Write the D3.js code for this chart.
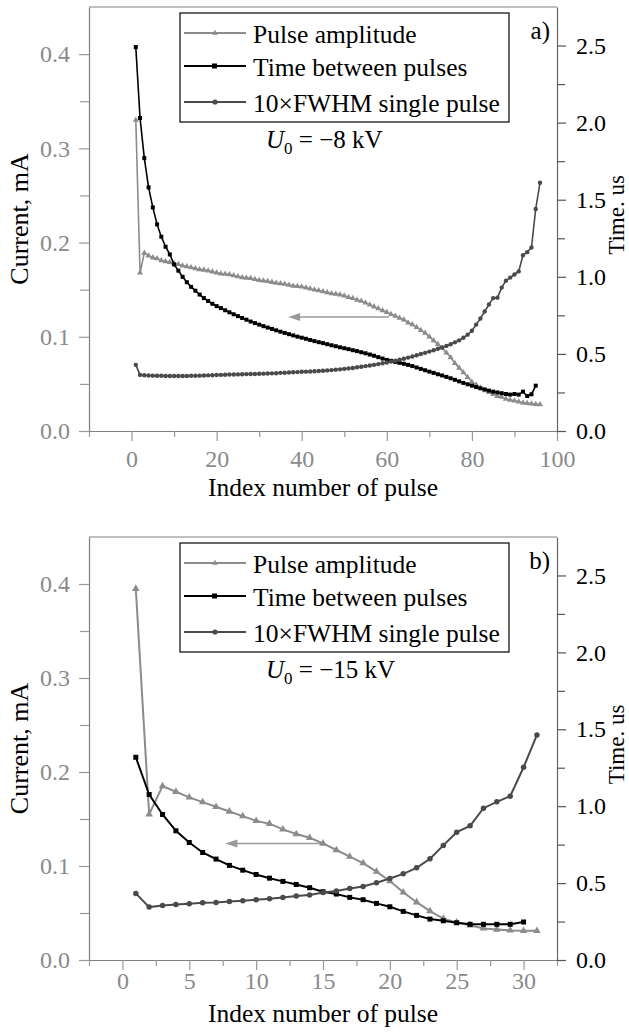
<!DOCTYPE html>
<html>
<head>
<meta charset="utf-8">
<script src="https://cdn.jsdelivr.net/npm/d3@7"></script>
<style>
  body { margin: 0; background: #fff; }
</style>
</head>
<body>
<script>
// series names (legend)
var seriesNames = ["Pulse amplitude", "Time between pulses", "10\u00d7FWHM single pulse"];

// panel a) U0 = -8 kV, index 1..96
var ampA = [0.330, 0.168, 0.189, 0.186, 0.184, 0.183, 0.181, 0.180, 0.179, 0.178,
  0.177, 0.1755, 0.1745, 0.1735, 0.1725, 0.1715, 0.171, 0.170, 0.169, 0.168,
  0.167, 0.1665, 0.166, 0.165, 0.164, 0.163, 0.1625, 0.162, 0.161, 0.160,
  0.1595, 0.159, 0.158, 0.157, 0.1565, 0.156, 0.155, 0.154, 0.1535, 0.153,
  0.152, 0.151, 0.150, 0.149, 0.148, 0.147, 0.146, 0.1455, 0.1445, 0.1435,
  0.142, 0.141, 0.139, 0.138, 0.136, 0.134, 0.132, 0.130, 0.128, 0.126,
  0.124, 0.122, 0.120, 0.118, 0.115, 0.113, 0.110, 0.107, 0.104, 0.100,
  0.096, 0.092, 0.088, 0.083, 0.078, 0.072, 0.067, 0.062, 0.057, 0.052,
  0.049, 0.046, 0.043, 0.041, 0.039, 0.037, 0.036, 0.034, 0.033, 0.032,
  0.031, 0.030, 0.0295, 0.029, 0.0285, 0.028];
var tbpA = [2.49, 2.03, 1.77, 1.58, 1.45, 1.34, 1.26, 1.195, 1.145, 1.08,
  1.04, 1.00, 0.965, 0.935, 0.91, 0.885, 0.862, 0.843, 0.825, 0.81,
  0.797, 0.783, 0.77, 0.757, 0.745, 0.733, 0.722, 0.71, 0.70, 0.69,
  0.68, 0.671, 0.662, 0.653, 0.644, 0.636, 0.628, 0.62, 0.612, 0.605,
  0.598, 0.59, 0.583, 0.576, 0.57, 0.563, 0.556, 0.55, 0.543, 0.537,
  0.531, 0.524, 0.518, 0.511, 0.504, 0.496, 0.488, 0.479, 0.470, 0.461,
  0.455, 0.448, 0.442, 0.436, 0.429, 0.421, 0.412, 0.403, 0.394, 0.385,
  0.377, 0.368, 0.360, 0.351, 0.342, 0.332, 0.322, 0.312, 0.303, 0.294,
  0.285, 0.277, 0.270, 0.262, 0.255, 0.250, 0.245, 0.240, 0.236, 0.240,
  0.236, 0.255, 0.227, 0.238, 0.294];
var fwhmA = [0.429, 0.364, 0.362, 0.360, 0.359, 0.358, 0.358, 0.357, 0.357, 0.357,
  0.357, 0.357, 0.357, 0.358, 0.358, 0.359, 0.360, 0.361, 0.362, 0.363,
  0.364, 0.365, 0.366, 0.366, 0.367, 0.368, 0.369, 0.370, 0.370, 0.371,
  0.372, 0.373, 0.374, 0.375, 0.377, 0.378, 0.379, 0.381, 0.382, 0.384,
  0.385, 0.386, 0.388, 0.389, 0.391, 0.393, 0.395, 0.398, 0.400, 0.403,
  0.406, 0.409, 0.413, 0.417, 0.421, 0.425, 0.429, 0.434, 0.439, 0.444,
  0.450, 0.456, 0.462, 0.469, 0.476, 0.483, 0.491, 0.499, 0.507, 0.515,
  0.524, 0.533, 0.542, 0.552, 0.563, 0.575, 0.588, 0.605, 0.625, 0.650,
  0.690, 0.730, 0.775, 0.820, 0.862, 0.865, 0.930, 0.975, 0.995, 1.015,
  1.035, 1.14, 1.16, 1.19, 1.44, 1.61];

// panel b) U0 = -15 kV, index 1..31
var ampB = [0.395, 0.155, 0.185, 0.179, 0.173, 0.168, 0.163, 0.158, 0.153, 0.148,
  0.145, 0.139, 0.134, 0.130, 0.124, 0.117, 0.110, 0.103, 0.094, 0.084,
  0.072, 0.0615, 0.052, 0.044, 0.040, 0.037, 0.0336, 0.0325, 0.0315, 0.031,
  0.031];
var tbpB = [1.318, 1.076, 0.946, 0.840, 0.764, 0.699, 0.656, 0.615, 0.584, 0.556,
  0.532, 0.511, 0.491, 0.470, 0.444, 0.429, 0.407, 0.392, 0.368, 0.346,
  0.316, 0.290, 0.266, 0.255, 0.242, 0.232, 0.232, 0.232, 0.232, 0.247];
var fwhmB = [0.433, 0.344, 0.355, 0.361, 0.366, 0.372, 0.374, 0.381, 0.385, 0.392,
  0.398, 0.407, 0.416, 0.422, 0.439, 0.448, 0.465, 0.478, 0.502, 0.530,
  0.560, 0.599, 0.658, 0.745, 0.831, 0.872, 0.987, 1.028, 1.065, 1.253,
  1.463];

// tick values
var currentTicks = [0, 0.1, 0.2, 0.3, 0.4];
var currentMinor = [0.05, 0.15, 0.25, 0.35];
var timeTicks = [0, 0.5, 1.0, 1.5, 2.0, 2.5];
var timeMinor = [0.25, 0.75, 1.25, 1.75, 2.25];
var xTicksA = [0, 20, 40, 60, 80, 100];
var xMinorA = [-10, 10, 30, 50, 70, 90];
var xTicksB = [0, 5, 10, 15, 20, 25, 30];
var xMinorB = [-2.5, 2.5, 7.5, 12.5, 17.5, 22.5, 27.5, 32.5];

var W = 629, H = 1032;
var left = 89, right = 557;
var cAmp = "#8c8c8c", cTbp = "#000", cFwhm = "#4a4a4a";
var axisGray = "#808080", labelGray = "#8a8a8a";
var serif = "'Liberation Serif', Tinos, 'Times New Roman', 'DejaVu Serif', serif";
var tickFs = 24;

var svg = d3.select("body").append("svg")
  .attr("width", W)
  .attr("height", H)
  .attr("font-family", serif);

var panels = [
  { top: 7, bottom: 431, xDomain: [-10, 100], xTicks: xTicksA, xMinor: xMinorA,
    amp: ampA, tbp: tbpA, fwhm: fwhmA, tag: "a)", volt: " = \u22128 kV",
    arrow: [60.5, 36.8, 0.121], labelOff: 36, titleY: 495.5, small: true },
  { top: 537, bottom: 960, xDomain: [-2.5, 32.5], xTicks: xTicksB, xMinor: xMinorB,
    amp: ampB, tbp: tbpB, fwhm: fwhmB, tag: "b)", volt: " = \u221215 kV",
    arrow: [15, 7.7, 0.124], labelOff: 29, titleY: 1022, small: false }
];

panels.forEach(drawPanel);

// d3 axes put their own font-family on the group, override it
svg.selectAll("g").attr("font-family", serif);
svg.selectAll("text").style("font-family", serif);

function drawPanel(p) {
  var x = d3.scaleLinear().domain(p.xDomain).range([left, right]);
  var yL = d3.scaleLinear().domain([0, 0.45]).range([p.bottom, p.top]);
  var yR = d3.scaleLinear().domain([0, 2.75]).range([p.bottom, p.top]);
  var g = svg.append("g");

  // frame top
  g.append("line")
    .attr("x1", left).attr("x2", right)
    .attr("y1", p.top).attr("y2", p.top)
    .attr("stroke", axisGray).attr("stroke-width", 1.2);

  // x axis
  var gx = g.append("g")
    .attr("transform", "translate(0," + p.bottom + ")")
    .call(d3.axisBottom(x).tickValues(p.xTicks).tickSize(10).tickSizeOuter(0)
      .tickPadding(p.labelOff - 10 - 0.71 * tickFs).tickFormat(d3.format("d")));
  gx.append("g")
    .call(d3.axisBottom(x).tickValues(p.xMinor).tickSize(6).tickSizeOuter(0).tickFormat(""))
    .select(".domain").remove();
  gx.selectAll(".domain").attr("stroke", axisGray).attr("stroke-width", 1.2);
  gx.selectAll(".tick line").attr("stroke", "#999").attr("stroke-width", 1.2);
  gx.selectAll("text").attr("fill", labelGray).style("font-size", tickFs + "px");

  // left axis (current)
  var gl = g.append("g")
    .attr("transform", "translate(" + left + ",0)")
    .call(d3.axisLeft(yL).tickValues(currentTicks).tickSize(10).tickSizeOuter(0)
      .tickPadding(9).tickFormat(d3.format(".1f")));
  gl.append("g")
    .call(d3.axisLeft(yL).tickValues(currentMinor).tickSize(9).tickSizeOuter(0).tickFormat(""))
    .select(".domain").remove();
  gl.selectAll(".domain").attr("stroke", axisGray).attr("stroke-width", 1.2);
  gl.selectAll(".tick line").attr("stroke", "#999").attr("stroke-width", 1.2);
  gl.selectAll("text").attr("fill", labelGray).style("font-size", tickFs + "px");

  // right axis (time)
  var gr = g.append("g")
    .attr("transform", "translate(" + right + ",0)")
    .call(d3.axisRight(yR).tickValues(timeTicks).tickSize(9).tickSizeOuter(0)
      .tickPadding(10).tickFormat(d3.format(".1f")));
  gr.append("g")
    .call(d3.axisRight(yR).tickValues(timeMinor).tickSize(8).tickSizeOuter(0).tickFormat(""))
    .select(".domain").remove();
  gr.selectAll(".domain").attr("stroke", "#666").attr("stroke-width", 1.2);
  gr.selectAll(".tick line").attr("stroke", "#555").attr("stroke-width", 1.2);
  gr.selectAll("text").attr("fill", "#000").style("font-size", tickFs + "px");

  // axis titles
  var mid = (p.top + p.bottom) / 2;
  g.append("text")
    .attr("transform", "translate(28," + mid + ") rotate(-90)")
    .attr("text-anchor", "middle")
    .style("font-size", "26px")
    .text("Current, mA");
  g.append("text")
    .attr("transform", "translate(624," + (mid - 4) + ") rotate(-90)")
    .attr("text-anchor", "middle")
    .style("font-size", "23px")
    .text("Time. us");
  g.append("text")
    .attr("x", (left + right) / 2)
    .attr("y", p.titleY)
    .attr("text-anchor", "middle")
    .style("font-size", "25.5px")
    .text("Index number of pulse");

  // arrow toward the current axis
  var ay = yL(p.arrow[2]);
  var ax1 = x(p.arrow[0]), ax2 = x(p.arrow[1]);
  g.append("line")
    .attr("x1", ax1).attr("x2", ax2 + 8)
    .attr("y1", ay).attr("y2", ay)
    .attr("stroke", "#9a9a9a").attr("stroke-width", 1.5);
  g.append("path")
    .attr("d", "M" + ax2 + "," + ay + "L" + (ax2 + 12) + "," + (ay - 4) + "L" + (ax2 + 12) + "," + (ay + 4) + "Z")
    .attr("fill", "#9a9a9a");

  var ms = p.small ? 1 : 1.25;
  var lw = p.small ? 1.6 : 2;

  var lineL = d3.line().x(function(d, i) { return x(i + 1); }).y(function(d) { return yL(d); });
  var lineR = d3.line().x(function(d, i) { return x(i + 1); }).y(function(d) { return yR(d); });

  // pulse amplitude (left axis)
  g.append("path").datum(p.amp)
    .attr("d", lineL).attr("fill", "none").attr("stroke", cAmp).attr("stroke-width", lw);
  g.selectAll(".tri").data(p.amp).enter().append("path")
    .attr("class", "tri")
    .attr("d", d3.symbol(d3.symbolTriangle).size(16 * ms * ms))
    .attr("transform", function(d, i) { return "translate(" + x(i + 1) + "," + yL(d) + ")"; })
    .attr("fill", cAmp);

  // time between pulses (right axis)
  g.append("path").datum(p.tbp)
    .attr("d", lineR).attr("fill", "none").attr("stroke", cTbp).attr("stroke-width", lw);
  var sq = 4 * ms;
  g.selectAll(".sq").data(p.tbp).enter().append("rect")
    .attr("class", "sq")
    .attr("x", function(d, i) { return x(i + 1) - sq / 2; })
    .attr("y", function(d) { return yR(d) - sq / 2; })
    .attr("width", sq).attr("height", sq)
    .attr("fill", cTbp);

  // 10xFWHM (right axis)
  g.append("path").datum(p.fwhm)
    .attr("d", lineR).attr("fill", "none").attr("stroke", cFwhm).attr("stroke-width", lw);
  g.selectAll(".dot").data(p.fwhm).enter().append("circle")
    .attr("class", "dot")
    .attr("cx", function(d, i) { return x(i + 1); })
    .attr("cy", function(d) { return yR(d); })
    .attr("r", 2.2 * ms)
    .attr("fill", cFwhm);

  // legend
  var lg = g.append("g").attr("transform", "translate(180," + (p.top + 6) + ")");
  lg.append("rect")
    .attr("width", 329).attr("height", 109)
    .attr("fill", "#fff").attr("stroke", "#000").attr("stroke-width", 1.2);
  var rows = [20, 53, 89];
  var cols = [cAmp, cTbp, cFwhm];
  seriesNames.forEach(function(name, k) {
    var ry = rows[k];
    lg.append("line")
      .attr("x1", 4).attr("x2", 66).attr("y1", ry).attr("y2", ry)
      .attr("stroke", cols[k]).attr("stroke-width", 1.8);
    if (k === 0) {
      lg.append("path").attr("d", d3.symbol(d3.symbolTriangle).size(14))
        .attr("transform", "translate(35," + ry + ")").attr("fill", cols[k]);
    } else if (k === 1) {
      lg.append("rect").attr("x", 32).attr("y", ry - 2.5).attr("width", 5).attr("height", 5)
        .attr("fill", cols[k]);
    } else {
      lg.append("circle").attr("cx", 35).attr("cy", ry).attr("r", 2.6).attr("fill", cols[k]);
    }
    lg.append("text")
      .attr("x", 73).attr("y", ry + 9.5)
      .style("font-size", "25.5px")
      .text(name);
  });

  // panel tag
  g.append("text")
    .attr("x", 550).attr("y", p.top + 32)
    .attr("text-anchor", "end")
    .style("font-size", "25px")
    .text(p.tag);

  // voltage
  var vt = g.append("text")
    .attr("x", 266).attr("y", p.top + 141)
    .style("font-size", "25px");
  vt.append("tspan").style("font-style", "italic").text("U");
  vt.append("tspan").attr("dy", 6).style("font-size", "17px").text("0");
  vt.append("tspan").attr("dy", -6).text(p.volt);
}
</script>
</body>
</html>
